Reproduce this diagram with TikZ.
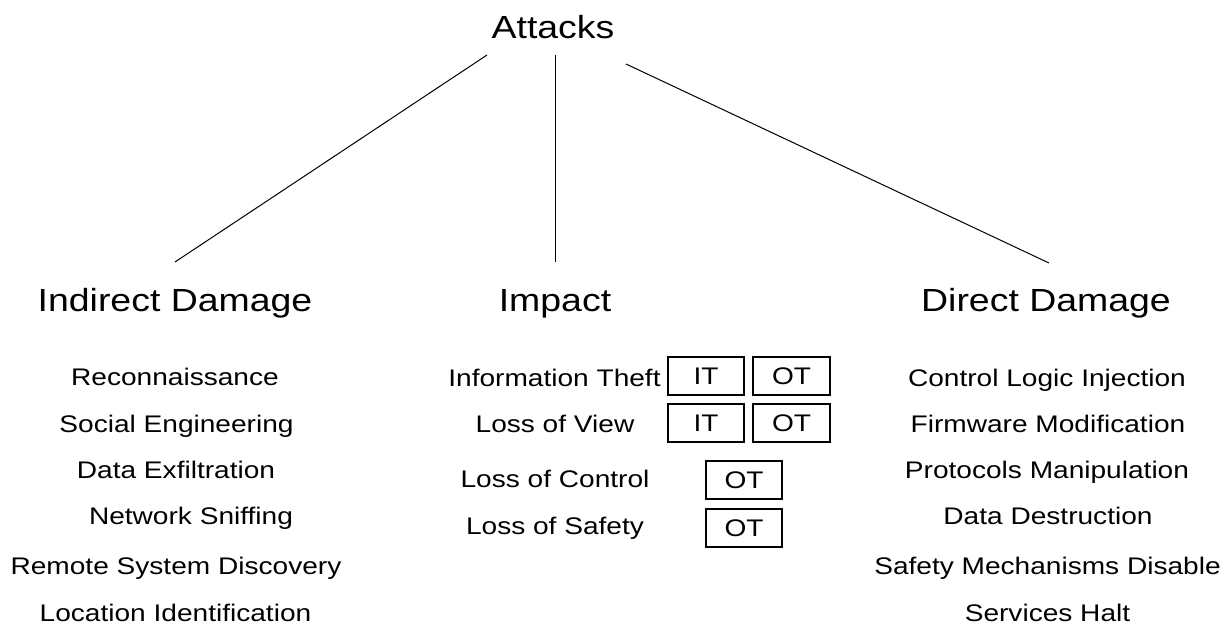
\documentclass[tikz,border=0pt]{standalone}
\usepackage{fontspec}
\setmainfont{Liberation Sans}[FakeStretch=1.17]
\begin{document}
\begin{tikzpicture}[x=1pt,y=-1pt,
  item/.style={inner sep=0pt, font=\fontsize{24}{28}\selectfont, text height=17.2pt, text depth=0pt},
  head/.style={inner sep=0pt, font=\fontsize{32}{38}\selectfont, text height=22.9pt, text depth=0pt},
  tag/.style={draw, line width=1.3pt, inner sep=0pt, minimum height=38pt, font=\fontsize{24}{28}\selectfont, text height=17.2pt, text depth=0pt},
  link/.style={line width=1pt}]
\useasboundingbox (0,0) rectangle (1229,639);
\node[head] (attacks) at (553,27) {Attacks};
\node[head] (indirect) at (175,300) {Indirect Damage};
\node[head] (impact) at (555,300) {Impact};
\node[head] (direct) at (1046,300) {Direct Damage};
\coordinate (a1) at (487,55);
\coordinate (a2) at (555,55);
\coordinate (a3) at (626,64);
\coordinate (b1) at (175,262);
\coordinate (b2) at (555,262);
\coordinate (b3) at (1049,263);
\draw[link] (a1) -- (b1);
\draw[link] (a2) -- (b2);
\draw[link] (a3) -- (b3);
% left column
\node[item] (l1) at (175,377) {Reconnaissance};
\node[item] (l2) at (176.5,424) {Social Engineering};
\node[item] (l3) at (176,470) {Data Exfiltration};
\node[item] (l4) at (191,516) {Network Sniffing};
\node[item] (l5) at (176,566) {Remote System Discovery};
\node[item] (l6) at (175.5,613) {Location Identification};
% middle column
\node[item] (m1) at (554.5,378) {Information Theft};
\node[item] (m2) at (555,424) {Loss of View};
\node[item] (m3) at (555,479) {Loss of Control};
\node[item] (m4) at (555,526) {Loss of Safety};
\node[tag, minimum width=76pt] (it1) at (706,376) {IT};
\node[tag, minimum width=77pt] (ot1) at (791.5,376) {OT};
\node[tag, minimum width=76pt] (it2) at (706,423) {IT};
\node[tag, minimum width=77pt] (ot2) at (791.5,423) {OT};
\node[tag, minimum width=76pt] (ot3) at (744,480) {OT};
\node[tag, minimum width=76pt] (ot4) at (744,528) {OT};
% right column
\node[item] (r1) at (1047,378) {Control Logic Injection};
\node[item] (r2) at (1048,424) {Firmware Modification};
\node[item] (r3) at (1047,470) {Protocols Manipulation};
\node[item] (r4) at (1048,516) {Data Destruction};
\node[item] (r5) at (1047.5,566) {Safety Mechanisms Disable};
\node[item] (r6) at (1047.5,613) {Services Halt};
\end{tikzpicture}
\end{document}
